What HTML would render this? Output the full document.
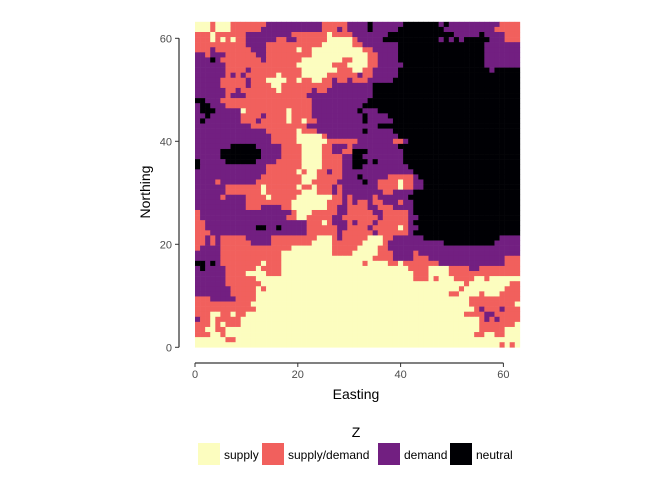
<!DOCTYPE html>
<html><head><meta charset="utf-8"><style>
body{margin:0;background:#fff;}
svg{display:block;font-family:"Liberation Sans",sans-serif;}
</style></head><body>
<svg id="chart" width="672" height="480">
<g id="cells"></g>
<g id="axes"></g>
<g id="legend"></g>
</svg>
<script>
const categories = ["supply","supply/demand","demand","neutral"];
const codes = ["Y","S","P","K"];
const colors = ["#FCFDBF","#F1605D","#721F81","#000004"];
const xTicks = [0,20,40,60];
const yTicks = [0,20,40,60];
// rows top (northing high) to bottom; left part cols 0-33, right part cols 31-63
const rowsLeft = [
"Y0-2,S3,Y4-6,S7-13,P14-24,S25-29,P30-33",
"Y0-2,S3,Y4-6,S7-12,P13-24,S25-27,P28,S29,P30-33",
"S0-2,Y3,S4-9,P10-18,S19-25,Y26,S27-31,P32-33",
"S0-2,Y3,S4,Y5,S6,Y7,S8-9,P10-15,S16-17,P18-19,S20-25,Y26-30,S31-33",
"S0-9,P10-13,S14-24,Y25-32,S33",
"S0-2,P3,S4-10,P11-13,S14-19,Y20,S21-22,Y23-33",
"P0-1,S2,P3-5,S6-11,P12-13,S14-22,Y23-33",
"P0-2,K3,P4,S5-12,P13,S14-20,Y21-28,S29-30,Y31-33",
"P0-5,S6-19,Y20-26,S27-29,Y30-33",
"P0-5,S6-9,P10,S11-20,Y21-27,S28-31,Y32-33",
"P0-5,S6,P7,S8,P9,S10-15,Y16,S17-20,Y21-25,S26-31,Y32-33",
"P0-4,S5-9,P10,S11-13,Y14-17,S18-19,Y20,S21-22,Y23-24,S25-26,P27,S28-29,P30,S31,P32,S33",
"P0-4,S5-9,P10,S11-14,Y15-16,S17-26,P27-33",
"P0-5,S6-7,P8,S9-15,Y16,S17-22,P23,S24-25,P26-33",
"P0-5,S6,P7-9,S10-21,P22-33",
"K0-1,P2-4,S5-22,P23-33",
"P0,K1-2,P3-5,S6-22,P23-33",
"P0,K1-3,P4-8,Y9,S10-17,Y18,S19-22,P23-30,K31,P32-33",
"P0-1,K2,P3-8,S9-12,P13,S14-17,Y18,S19-22,P23-32,K33",
"P0,K1,P2-8,S9-11,P12,S13-17,Y18,S19-20,Y21,S22-23,P24-32,K33",
"P0-10,S11-21,P22-31,K32,P33",
"P0-13,S14-19,Y20,S21-23,P24-33",
"P0-14,S15-19,Y20-24,S25,P26-33",
"P0-14,S15-19,Y20-25,S26-31,P32-33",
"P0-6,K7-11,P12-16,S17-20,Y21-24,S25-26,P27-29,S30,P31-33",
"P0-4,K5-12,P13-16,S17-20,Y21-24,S25-26,P27-28,S29-30,K31-33",
"P0-4,K5-12,P13-16,S17-20,Y21-24,S25-28,P29-30,K31-33",
"K0,P1-5,K6-11,P12-15,S16-20,Y21-24,S25-28,P29-30,K31-33",
"K0,P1-13,S14-20,Y21-24,S25-28,P29-30,K31-33",
"P0-13,S14-19,Y20,S21,Y22-23,S24-25,P26,S27-28,P29-30,K31-33",
"P0-12,S13-20,Y21-23,S24-28,P29-33",
"P0-3,S4,P5-11,S12-20,Y21-22,S23-27,P28-33",
"P0-5,S6-12,Y13,S14-19,Y20,S21-22,Y23,S24-26,P27,S28,P29-33",
"P0-5,S6-12,Y13,S14-20,Y21-23,S24-26,P27,S28,P29-33",
"P0-4,S5,P6-9,S10-13,Y14,S15-19,Y20-26,S27-28,P29,S30-33",
"P0-9,S10-14,S15-18,Y19-25,S26-28,P29,S30-33",
"P0-9,S10-12,P13-16,S17-18,Y19-25,S26-27,P28-29,S30-33",
"S0,P1-18,S19,Y20-22,S23-27,P28-29,S30-33",
"S0,P1-17,S18-19,Y20-21,S22-26,P27-28,S29-33",
"S0-1,P2-21,S22-24,Y25,S26,P27-29,S30,P31-33",
"S0-1,P2-11,K12-13,P14-15,K16,P17-21,S22-25,S26-27,P28-29,S30-31,P32-33",
"S0-2,P3-21,S22-27,P28,S29-33",
"S0-1,P2,S3,P4,S5-9,P10-14,S15-23,Y24-26,S27,P28,S29-33",
"S0-1,P2,S3,P4,S5-10,P11-14,S15-22,Y23-26,S27-33",
"S0,P1-4,S5-18,Y19-26,S27-33",
"P0-4,S5-16,Y17-26,S27-33",
"P0-4,S5-16,Y17-33",
"K0-1,P2,K3,P4,S5-12,Y13,S14-16,Y17-33",
"P0,K1,P2-5,S6-11,Y12,S13-16,Y17-33",
"P0-5,S6-9,Y10-13,S14-16,Y17-33",
"P0-5,S6-11,Y12-33",
"P0-5,S6-12,Y13-33",
"P0-6,S7-11,Y12,S13,Y14-33",
"P0-6,S7-11,Y12-33",
"S0-2,P3-7,S8-11,Y12-33",
"S0-10,Y11-33",
"S0-11,Y12-33",
"S0-2,Y3-4,S5-6,Y7,S8-9,Y10-33",
"P0,S1-2,Y3,S4-8,Y9-33",
"S0-2,Y3,S4,Y5,S6-8,Y9-33",
"S0-1,Y2-3,S4-5,Y6-33",
"S0-2,Y3-4,S5,Y6-33",
"Y0-5,S6-7,Y8-33",
"Y0-33"
];
const rowsRight = [
"P31-33,K34,P35-40,K41-47,P48,K49,P50-59,S60-63",
"P31-33,K34,P35-39,K40-48,P49-58,S59-63",
"P31-37,K38-50,P51-55,K56,P57-60,S61-63",
"S31,P32-36,K37-47,P48,K49,P50,K51,P52,K53-57,P58-60,S61-63",
"S31-32,P33-39,K40-56,P57-63",
"Y31-32,S33-34,P35-39,K40-56,P57-63",
"Y31-33,S34-35,P36-39,K40-56,P57-63",
"Y31-33,S34-35,P36-39,K40-56,P57-63",
"Y31-33,S34-35,P36-40,K41-56,P57-63",
"Y31-32,S33-34,P35-39,K40-57,P58,K59-63",
"S31,P32,S33-34,P35-39,K40-63",
"S31-33,P34-38,K39-63",
"P31-34,K35-63",
"P31-34,K35-63",
"P31-34,K35-63",
"P31-33,K34-63",
"P31-32,K33-63",
"P31,K32,P33-35,K36-63",
"P31-32,K33,P34-37,K38-63",
"P31-32,K33,P34-38,K39-63",
"P31-35,K36-63",
"P31-32,K33,P34-38,K39-63",
"P31-39,K40-63",
"S31,P32-38,S39-40,P41,K42-63",
"P31-39,K40-63",
"K31-33,P34-40,K41-63",
"K31-32,P33-40,K41-63",
"K31-33,P34,K35,P36-40,K41-63",
"K31-32,P33-41,K42-63",
"P31-42,K43-63",
"P31,K32,P33-37,S38-42,P43,K44-63",
"P31-32,K33,P34-35,S36-39,Y40,S41-42,P43-44,K45-63",
"P31-35,S36-39,Y40,S41-42,P43-44,K45-63",
"P31-36,S37-38,P39-42,K43-63",
"P31-34,S35,P36-41,K42-63",
"P31,S32-33,P34,S35-36,P37-39,S40,P41-42,K43-63",
"S31-33,P34-35,S36-38,P39-42,K43-63",
"S31-34,P35-36,S37-41,P42,K43-63",
"S31-35,P36,S37-41,P42-43,K44-63",
"P31,S32-34,P35,S36-41,P42,K43-63",
"S31-33,P34,S35-39,Y40,S41,P42-43,K44-63",
"S31-34,P35,S36-41,P42,K43-63",
"S31-33,Y34-36,S37-38,P39-44,K45-59,P60-63",
"S31-32,Y33-36,S37,P38-48,K49-58,P59-63",
"S31,Y32-35,S36-37,P38-63",
"Y31-35,S36-38,P39-42,S43,P44-63",
"Y31-34,S35-38,P39-42,S43-45,P46-60,S61-63",
"Y31-32,S33,Y34-37,S38-39,Y40,S41-47,P48-60,S61-63",
"Y31-41,S42-45,Y46-49,S50-53,P54-55,S56-63",
"Y31-42,S43-45,Y46-49,S50-63",
"Y31-42,S43-45,Y46,S47,Y48-50,S51-54,Y55-56,S57,Y58-63",
"Y31-52,S53,Y54-61,S62-63",
"Y31-51,S52,Y53-60,S61-63",
"Y31-49,S50-51,Y52-55,S56,Y57-59,S60-63",
"Y31-53,S54-63",
"Y31-53,S54-62,Y63",
"Y31-54,S55,P56,S57-59,P60,S61-63",
"Y31-52,S53-56,P57-58,S59-63",
"Y31-55,S56,P57,S58,P59,S60-63",
"Y31-55,S56-62,Y63",
"Y31-55,S56-60,Y61-63",
"Y31-54,S55-56,Y57-58,S59-60,Y61-63",
"Y31-63",
"Y31-59,S60,Y61,S62,Y63"
];
const NS="http://www.w3.org/2000/svg";
const nCols=64, nRows=64, cellU=0.9875;
const xs=v=>195+v*5.14;
const ys=v=>347.3-v*5.15;
function mk(tag,attrs,parent){const e=document.createElementNS(NS,tag);for(const k in attrs)e.setAttribute(k,attrs[k]);parent.appendChild(e);return e;}
function parseRow(l,r){const a=new Array(nCols).fill("K");
 [l,r].forEach(s=>s.split(",").forEach(seg=>{const c=seg[0];const p=seg.slice(1).split("-").map(Number);const b=p.length>1?p[1]:p[0];for(let i=p[0];i<=b;i++)a[i]=c;}));return a;}
const cg=document.getElementById("cells");
for(let r=0;r<nRows;r++){
 const row=parseRow(rowsLeft[r],rowsRight[r]);
 const north=(nRows-1-r)*cellU;
 for(let c=0;c<nCols;c++){
  const k=codes.indexOf(row[c]);
  const x0=xs(c*cellU),x1=xs((c+1)*cellU),y0=ys(north+cellU),y1=ys(north);
  const el=mk("rect",{x:x0,y:y0,width:x1-x0+0.3,height:y1-y0+0.3,fill:colors[k]},cg);
  
  
 }
}
const ax=document.getElementById("axes");
let e=mk("line",{x1:179,x2:179,y1:ys(60),y2:ys(0),stroke:"#000","stroke-width":1},ax);

e=mk("line",{x1:xs(0),x2:xs(60),y1:363,y2:363,stroke:"#000","stroke-width":1},ax);

yTicks.forEach(t=>{
 let l=mk("line",{x1:175,x2:179,y1:ys(t),y2:ys(t),stroke:"#333"},ax);
 
 let tx=mk("text",{x:172,y:ys(t)+4,"text-anchor":"end","font-size":11,fill:"#4D4D4D"},ax);tx.textContent=t;
 
});
xTicks.forEach(t=>{
 let l=mk("line",{x1:xs(t),x2:xs(t),y1:363,y2:367,stroke:"#333"},ax);
 
 let tx=mk("text",{x:xs(t),y:378,"text-anchor":"middle","font-size":11,fill:"#4D4D4D"},ax);tx.textContent=t;
 
});
e=mk("text",{x:356,y:399,"text-anchor":"middle","font-size":14,fill:"#000"},ax);e.textContent="Easting";

e=mk("text",{x:150,y:192,"text-anchor":"middle","font-size":14,fill:"#000",transform:"rotate(-90 150 192)"},ax);e.textContent="Northing";

const lg=document.getElementById("legend");
e=mk("text",{x:356,y:437,"text-anchor":"middle","font-size":14,fill:"#000"},lg);e.textContent="Z";

const lx=[198,262,378,450];
categories.forEach((c,i)=>{
 let r=mk("rect",{x:lx[i],y:443,width:22,height:22,fill:colors[i]},lg);
 
 let t=mk("text",{x:lx[i]+26,y:459,"font-size":12,fill:"#000"},lg);t.textContent=c;
 
});
</script>
</body></html>
